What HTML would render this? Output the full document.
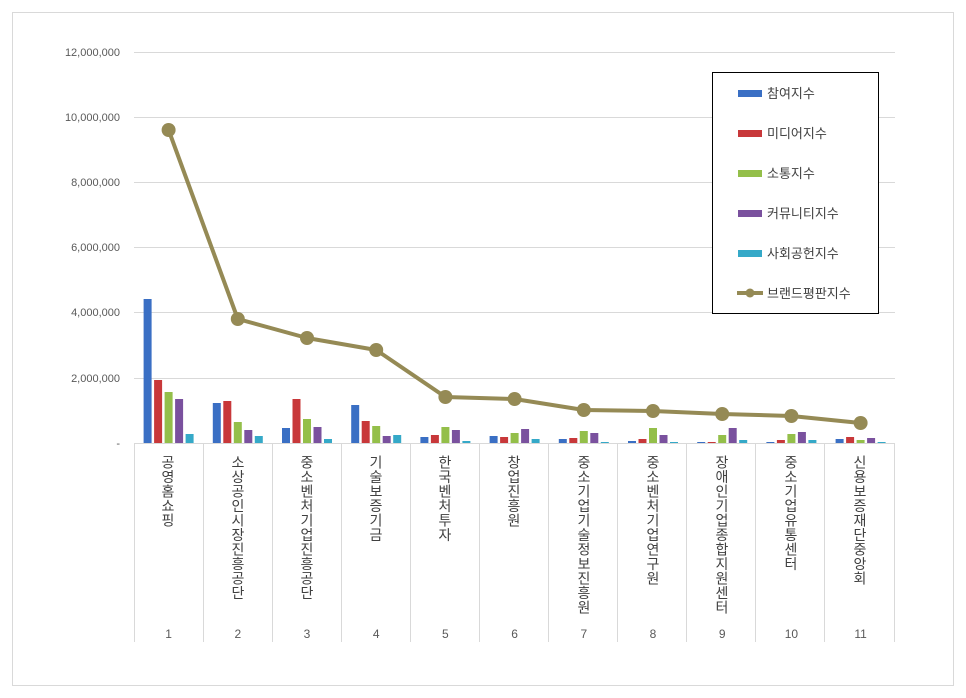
<!DOCTYPE html><html><head><meta charset="utf-8"><style>
body{margin:0;background:#fff;width:966px;height:698px;position:relative;overflow:hidden;font-family:"Liberation Sans","Noto Sans CJK KR",sans-serif}
.v{position:absolute;top:455px;width:20px;writing-mode:vertical-rl;text-orientation:upright;font-size:14px;color:#404040;line-height:20px;letter-spacing:0.5px;font-family:"Liberation Sans","Noto Sans CJK KR",sans-serif}
</style></head><body>
<svg width="966" height="698" style="position:absolute;left:0;top:0" font-family="Liberation Sans, Noto Sans CJK KR, sans-serif">
<rect x="12.5" y="12.5" width="941" height="673" fill="none" stroke="#d9d9d9"/>
<g stroke="#d9d9d9" stroke-width="1">
<line x1="134" x2="895" y1="52.5" y2="52.5"/><line x1="134" x2="895" y1="117.5" y2="117.5"/><line x1="134" x2="895" y1="182.5" y2="182.5"/><line x1="134" x2="895" y1="247.5" y2="247.5"/><line x1="134" x2="895" y1="312.5" y2="312.5"/><line x1="134" x2="895" y1="378.5" y2="378.5"/><line x1="134" x2="895" y1="443.5" y2="443.5"/>
<line x1="134.5" x2="134.5" y1="443" y2="642"/><line x1="203.5" x2="203.5" y1="443" y2="642"/><line x1="272.5" x2="272.5" y1="443" y2="642"/><line x1="341.5" x2="341.5" y1="443" y2="642"/><line x1="410.5" x2="410.5" y1="443" y2="642"/><line x1="479.5" x2="479.5" y1="443" y2="642"/><line x1="548.5" x2="548.5" y1="443" y2="642"/><line x1="617.5" x2="617.5" y1="443" y2="642"/><line x1="686.5" x2="686.5" y1="443" y2="642"/><line x1="755.5" x2="755.5" y1="443" y2="642"/><line x1="824.5" x2="824.5" y1="443" y2="642"/><line x1="894.5" x2="894.5" y1="443" y2="642"/>
</g>
<g font-size="11" fill="#595959" text-anchor="end">
<text x="120" y="56">12,000,000</text><text x="120" y="121">10,000,000</text><text x="120" y="186">8,000,000</text><text x="120" y="251">6,000,000</text><text x="120" y="316">4,000,000</text><text x="120" y="382">2,000,000</text><text x="120" y="447">-</text>
</g>
<g font-size="12" fill="#595959" text-anchor="middle">
<text x="168.6" y="638">1</text><text x="237.8" y="638">2</text><text x="307" y="638">3</text><text x="376.2" y="638">4</text><text x="445.4" y="638">5</text><text x="514.6" y="638">6</text><text x="583.8" y="638">7</text><text x="653" y="638">8</text><text x="722.2" y="638">9</text><text x="791.4" y="638">10</text><text x="860.6" y="638">11</text>
</g>
<g fill="#3a6fc4"><rect x="143.6" y="299" width="8" height="144"/><rect x="212.8" y="403" width="8" height="40"/><rect x="282" y="428" width="8" height="15"/><rect x="351.2" y="405" width="8" height="38"/><rect x="420.4" y="437" width="8" height="6"/><rect x="489.6" y="436" width="8" height="7"/><rect x="558.8" y="439" width="8" height="4"/><rect x="628" y="441" width="8" height="2"/><rect x="697.2" y="442" width="8" height="1"/><rect x="766.4" y="442" width="8" height="1"/><rect x="835.6" y="439" width="8" height="4"/></g>
<g fill="#c8383a"><rect x="154.1" y="380" width="8" height="63"/><rect x="223.3" y="401" width="8" height="42"/><rect x="292.5" y="399" width="8" height="44"/><rect x="361.7" y="421" width="8" height="22"/><rect x="430.9" y="435" width="8" height="8"/><rect x="500.1" y="437" width="8" height="6"/><rect x="569.3" y="438" width="8" height="5"/><rect x="638.5" y="439" width="8" height="4"/><rect x="707.7" y="442" width="8" height="1"/><rect x="776.9" y="440" width="8" height="3"/><rect x="846.1" y="437" width="8" height="6"/></g>
<g fill="#94bf4a"><rect x="164.6" y="392" width="8" height="51"/><rect x="233.8" y="422" width="8" height="21"/><rect x="303" y="419" width="8" height="24"/><rect x="372.2" y="426" width="8" height="17"/><rect x="441.4" y="427" width="8" height="16"/><rect x="510.6" y="433" width="8" height="10"/><rect x="579.8" y="431" width="8" height="12"/><rect x="649" y="428" width="8" height="15"/><rect x="718.2" y="435" width="8" height="8"/><rect x="787.4" y="434" width="8" height="9"/><rect x="856.6" y="440" width="8" height="3"/></g>
<g fill="#7a519e"><rect x="175.1" y="399" width="8" height="44"/><rect x="244.3" y="430" width="8" height="13"/><rect x="313.5" y="427" width="8" height="16"/><rect x="382.7" y="436" width="8" height="7"/><rect x="451.9" y="430" width="8" height="13"/><rect x="521.1" y="429" width="8" height="14"/><rect x="590.3" y="433" width="8" height="10"/><rect x="659.5" y="435" width="8" height="8"/><rect x="728.7" y="428" width="8" height="15"/><rect x="797.9" y="432" width="8" height="11"/><rect x="867.1" y="438" width="8" height="5"/></g>
<g fill="#35a9c8"><rect x="185.6" y="434" width="8" height="9"/><rect x="254.8" y="436" width="8" height="7"/><rect x="324" y="439" width="8" height="4"/><rect x="393.2" y="435" width="8" height="8"/><rect x="462.4" y="441" width="8" height="2"/><rect x="531.6" y="439" width="8" height="4"/><rect x="600.8" y="442" width="8" height="1"/><rect x="670" y="442" width="8" height="1"/><rect x="739.2" y="440" width="8" height="3"/><rect x="808.4" y="440" width="8" height="3"/><rect x="877.6" y="442" width="8" height="1"/></g>
<polyline fill="none" stroke="#958a55" stroke-width="4" stroke-linejoin="round" points="168.6,130 237.8,319 307,338 376.2,350 445.4,397 514.6,399 583.8,410 653,411 722.2,414 791.4,416 860.6,423"/>
<g fill="#958a55"><circle cx="168.6" cy="130" r="7"/><circle cx="237.8" cy="319" r="7"/><circle cx="307" cy="338" r="7"/><circle cx="376.2" cy="350" r="7"/><circle cx="445.4" cy="397" r="7"/><circle cx="514.6" cy="399" r="7"/><circle cx="583.8" cy="410" r="7"/><circle cx="653" cy="411" r="7"/><circle cx="722.2" cy="414" r="7"/><circle cx="791.4" cy="416" r="7"/><circle cx="860.6" cy="423" r="7"/></g>
<rect x="712.5" y="72.5" width="166" height="241" fill="#fff" stroke="#000"/>
<rect x="738" y="90" width="24" height="7" fill="#3a6fc4"/><rect x="738" y="130" width="24" height="7" fill="#c8383a"/><rect x="738" y="170" width="24" height="7" fill="#94bf4a"/><rect x="738" y="210" width="24" height="7" fill="#7a519e"/><rect x="738" y="250" width="24" height="7" fill="#35a9c8"/>
<line x1="737" x2="763" y1="293" y2="293" stroke="#958a55" stroke-width="4"/><circle cx="750" cy="293" r="4.5" fill="#958a55"/>
<g font-size="13" fill="#404040"><text x="767" y="98">참여지수</text><text x="767" y="138">미디어지수</text><text x="767" y="178">소통지수</text><text x="767" y="218">커뮤니티지수</text><text x="767" y="258">사회공헌지수</text><text x="767" y="298">브랜드평판지수</text></g>
</svg>
<div class="v" style="left:158px">공영홈쇼핑</div>
<div class="v" style="left:228px">소상공인시장진흥공단</div>
<div class="v" style="left:297px">중소벤처기업진흥공단</div>
<div class="v" style="left:366px">기술보증기금</div>
<div class="v" style="left:435px">한국벤처투자</div>
<div class="v" style="left:504px">창업진흥원</div>
<div class="v" style="left:574px">중소기업기술정보진흥원</div>
<div class="v" style="left:643px">중소벤처기업연구원</div>
<div class="v" style="left:712px">장애인기업종합지원센터</div>
<div class="v" style="left:781px">중소기업유통센터</div>
<div class="v" style="left:850px">신용보증재단중앙회</div>
</body></html>
